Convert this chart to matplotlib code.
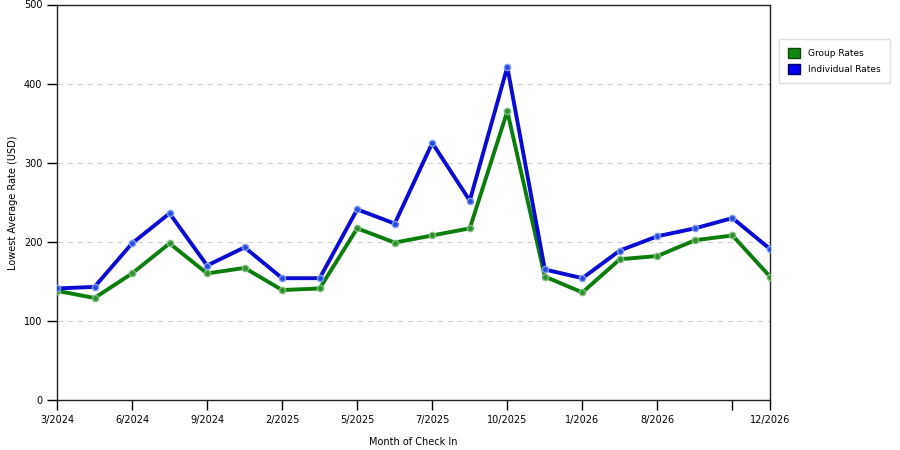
import matplotlib.pyplot as plt
from matplotlib.patches import Patch

# Monthly lowest average rates (USD)
tick_idx = [0, 2, 4, 6, 8, 10, 12, 14, 16, 18, 19]
tick_labels = ['3/2024', '6/2024', '9/2024', '2/2025', '5/2025', '7/2025',
               '10/2025', '1/2026', '8/2026', '', '12/2026']
group_rates = [138, 129, 160, 198, 160, 167, 139, 141, 217, 199,
               208, 217, 365, 156, 136, 178, 182, 202, 208, 156]
individual_rates = [141, 143, 198, 236, 170, 193, 154, 154, 241, 223,
                    325, 252, 421, 165, 154, 189, 207, 217, 230, 191]

green = '#0b7d0b'
blue = '#0a0ad2'

fig = plt.figure(figsize=(9, 4.5), dpi=100)
ax = fig.add_axes([57 / 900, 50 / 450, 713 / 900, 395.5 / 450])

x = list(range(len(group_rates)))
ax.plot(x, group_rates, color=green, lw=2.8, marker='o', ms=4.5,
        mfc='#2f8f2f', mec='#7cbf7c', mew=1, zorder=3)
ax.plot(x, individual_rates, color=blue, lw=2.8, marker='o', ms=4.5,
        mfc='#2a4ae0', mec='#7fa0f0', mew=1, zorder=4)

ax.set_xlim(0, 19)
ax.set_ylim(0, 500)
ax.set_xticks(tick_idx)
ax.set_xticklabels(tick_labels, fontsize=7)
ax.set_yticks([0, 100, 200, 300, 400, 500])
ax.tick_params(axis='y', labelsize=7, direction='out', length=7, width=1)
ax.tick_params(axis='x', direction='out', length=7, width=1, pad=4)
for y in [100, 200, 300, 400]:
    ax.axhline(y, color='#d0d0d0', lw=0.8, ls=(0, (5, 4)), zorder=1)
for s in ax.spines.values():
    s.set_linewidth(1)
    s.set_color('#222222')

ax.set_xlabel('Month of Check In', fontsize=7)
ax.set_ylabel('Lowest Average Rate (USD)', fontsize=7)
ax.xaxis.set_label_coords(0.5, -37 / 395.5)
ax.yaxis.set_label_coords(-39 / 713, 0.5)

handles = [Patch(facecolor='#118811', edgecolor='#0a4a0a', label='Group Rates'),
           Patch(facecolor='#0000ee', edgecolor='#00006a', label='Individual Rates')]
leg = fig.legend(handles=handles, loc='upper left',
                 bbox_to_anchor=(779 / 900, 1 - 39 / 450), fontsize=6.5,
                 handlelength=1.3, handleheight=1.3, fancybox=False,
                 borderpad=1.0, labelspacing=0.7, handletextpad=0.9,
                 borderaxespad=0)
leg.get_frame().set_edgecolor('#d8d8d8')
leg.get_frame().set_linewidth(1)

fig.savefig('out.png', dpi=100)
